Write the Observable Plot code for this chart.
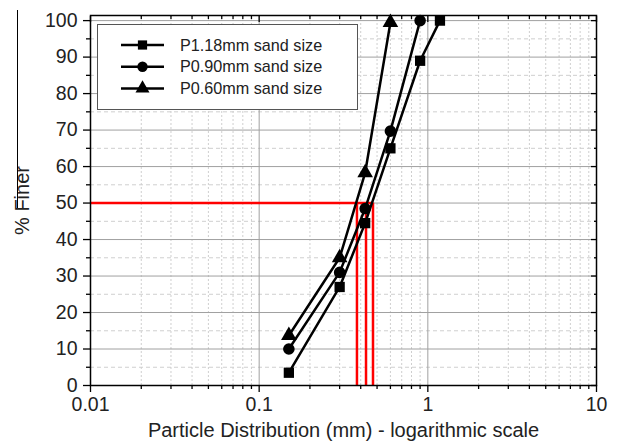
<!DOCTYPE html>
<html>
<head>
<meta charset="utf-8">
<script src="https://cdn.jsdelivr.net/npm/d3@7"></script>
<script src="https://cdn.jsdelivr.net/npm/@observablehq/plot@0.6"></script>
<style>
  body { margin: 0; background: #fff; font-family: "Liberation Sans", Arial, sans-serif; }
  #wrap { position: relative; width: 617px; height: 447px; }
  #legend { position: absolute; left: 97px; top: 24px; width: 259px; height: 84px; border: 1.5px solid #555; background: #fff; }
  #stray { position: absolute; left: 17px; top: 10px; width: 0; height: 198px; border-left: 1.3px solid #000; }
</style>
</head>
<body>
<div id="wrap"></div>
<script>
// ---- data ----
const sizes118 = [0.15, 0.3, 0.425, 0.6, 0.9, 1.18];
const finer118 = [3.5, 27, 44.5, 65, 89, 100];
const sizes090 = [0.15, 0.3, 0.425, 0.6, 0.9];
const finer090 = [10, 31, 48.5, 69.7, 100];
const sizes060 = [0.15, 0.3, 0.425, 0.6];
const finer060 = [13.7, 35, 58.3, 99.5];
const seriesNames = ["P1.18mm sand size", "P0.90mm sand size", "P0.60mm sand size"];
const seriesSymbols = ["square", "circle", "triangle"];
const d50Sizes = [0.38, 0.43, 0.473];
const d50Level = 50;
const xMajorTicks = [0.01, 0.1, 1, 10];
const xMinorMultipliers = [2, 3, 4, 5, 6, 7, 8, 9];
const yMajorTicks = [0, 10, 20, 30, 40, 50, 60, 70, 80, 90, 100];
const yMinorTicks = [5, 15, 25, 35, 45, 55, 65, 75, 85, 95];

const series = [
  {name: seriesNames[0], symbol: seriesSymbols[0], x: sizes118, y: finer118},
  {name: seriesNames[1], symbol: seriesSymbols[1], x: sizes090, y: finer090},
  {name: seriesNames[2], symbol: seriesSymbols[2], x: sizes060, y: finer060}
];
const pts = series.flatMap(s => s.x.map((x, i) => ({name: s.name, symbol: s.symbol, x, y: s.y[i]})));
const xMinorTicks = xMajorTicks.slice(0, -1).flatMap(d => xMinorMultipliers.map(m => +(d * m).toPrecision(3)));
const d50Rows = d50Sizes.map(x => ({x, y: d50Level}));

const font = "Liberation Sans, Arial, sans-serif";
const chart = Plot.plot({
  width: 617,
  height: 447,
  marginLeft: 90,
  marginRight: 21,
  marginTop: 15,
  marginBottom: 62,
  style: {fontFamily: font, color: "#222", background: "#fff"},
  x: {type: "log", domain: [0.01, 10]},
  y: {domain: [0, 101.4]},
  symbol: {domain: seriesSymbols, range: seriesSymbols},
  marks: [
    // minor grid
    Plot.ruleY(yMinorTicks, {stroke: "#cfcfcf", strokeDasharray: "4,3", strokeWidth: 1}),
    Plot.ruleX(xMinorTicks, {stroke: "#cfcfcf", strokeDasharray: "2,2", strokeWidth: 1}),
    // major grid
    Plot.ruleY(yMajorTicks, {stroke: "#a0a0a0", strokeWidth: 1}),
    Plot.ruleX(xMajorTicks, {stroke: "#a0a0a0", strokeWidth: 1}),
    // red D50 lines
    Plot.ruleY([d50Level], {x1: xMajorTicks[0], x2: d3.max(d50Sizes), stroke: "#ff0000", strokeWidth: 2.5}),
    Plot.ruleX(d50Rows, {x: "x", y1: 0, y2: "y", stroke: "#ff0000", strokeWidth: 2.5}),
    // series
    Plot.line(pts, {x: "x", y: "y", z: "name", stroke: "#000", strokeWidth: 2.5}),
    Plot.dot(pts, {x: "x", y: "y", symbol: "symbol", r: 5.8, fill: "#000", stroke: "none"}),
    // axes
    Plot.axisY(yMajorTicks, {anchor: "left", tickSize: 7, tickPadding: 6, stroke: "#000", strokeWidth: 1.3,
      label: "% Finer", labelAnchor: "center", labelOffset: 76, labelArrow: "none", tickFormat: d => d}),
    Plot.axisY(yMinorTicks, {anchor: "left", tickSize: 4, text: null, label: null, stroke: "#000", strokeWidth: 1.3}),
    Plot.axisY(yMajorTicks, {anchor: "right", tickSize: -6, text: null, label: null, stroke: "#000", strokeWidth: 1.3}),
    Plot.axisY(yMinorTicks, {anchor: "right", tickSize: -3, text: null, label: null, stroke: "#000", strokeWidth: 1.3}),
    Plot.axisX(xMajorTicks, {anchor: "bottom", tickSize: 7, tickPadding: 5, stroke: "#000", strokeWidth: 1.3,
      tickFormat: d => String(d),
      label: "Particle Distribution (mm) - logarithmic scale", labelAnchor: "center", labelOffset: 51, labelArrow: "none"}),
    Plot.axisX(xMinorTicks, {anchor: "bottom", tickSize: 4, text: null, label: null, stroke: "#000", strokeWidth: 1.3}),
    Plot.axisX(xMajorTicks, {anchor: "top", tickSize: -6, text: null, label: null, stroke: "#000", strokeWidth: 1.3}),
    Plot.axisX(xMinorTicks, {anchor: "top", tickSize: -3, text: null, label: null, stroke: "#000", strokeWidth: 1.3}),
    Plot.frame({stroke: "#000", strokeWidth: 1.5})
  ]
});
const wrap = document.getElementById("wrap");
wrap.appendChild(chart);
// font sizes set inline
chart.querySelectorAll("g[aria-label]").forEach(g => {
  const lab = g.getAttribute("aria-label");
  let fs = null;
  if (/tick label/.test(lab)) fs = "19.5px";
  else if (/axis label/.test(lab)) fs = "20px";
  if (fs) {
    g.style.fontSize = fs;
    g.removeAttribute("font-size");
    g.querySelectorAll("text").forEach(t => { t.style.fontSize = fs; t.removeAttribute("font-size"); });
  }
});

// legend overlay
const legend = document.createElement("div");
legend.id = "legend";
const ns = "http://www.w3.org/2000/svg";
const lsvg = document.createElementNS(ns, "svg");
lsvg.setAttribute("width", 259); lsvg.setAttribute("height", 84);
series.forEach((s, i) => {
  const cy = 20 + i * 21.7;
  const line = document.createElementNS(ns, "line");
  line.setAttribute("x1", 23); line.setAttribute("x2", 66);
  line.setAttribute("y1", cy); line.setAttribute("y2", cy);
  line.setAttribute("stroke", "#000"); line.setAttribute("stroke-width", 2.5);
  lsvg.appendChild(line);
  const path = document.createElementNS(ns, "path");
  path.setAttribute("d", d3.symbol(s.symbol === "square" ? d3.symbolSquare : s.symbol === "circle" ? d3.symbolCircle : d3.symbolTriangle, Math.PI * 5.2 * 5.2)());
  path.setAttribute("transform", `translate(44.5,${cy})`);
  path.setAttribute("fill", "#000");
  lsvg.appendChild(path);
  const text = document.createElementNS(ns, "text");
  text.setAttribute("x", 82); text.setAttribute("y", cy);
  text.setAttribute("dy", "0.35em");
  text.setAttribute("font-size", 16.2);
  text.setAttribute("font-family", font);
  text.setAttribute("fill", "#222");
  text.textContent = s.name;
  lsvg.appendChild(text);
});
legend.appendChild(lsvg);
wrap.appendChild(legend);
const stray = document.createElement("div");
stray.id = "stray";
wrap.appendChild(stray);
</script>
</body>
</html>
